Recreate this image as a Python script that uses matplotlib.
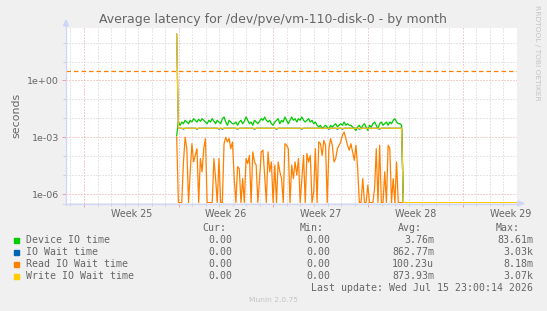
import numpy as np
import matplotlib
matplotlib.use('Agg')
import matplotlib.pyplot as plt
from matplotlib.lines import Line2D
from matplotlib.patches import Polygon
from matplotlib.ticker import FixedLocator, NullFormatter

W, H = 547, 311

# 3-hour averages, time in days from Monday of week 25
t_start = 6.85
step = 1 / 8
tail_len = 68          # trailing zero samples after the disk went idle

# Device IO time (ms)
device_ms = [
    1.2, 6.4, 4.3, 6.4, 5.2, 7.9, 6.4, 5.2, 7.9, 6.4,
    9.6, 7.9, 6.4, 8.9, 7.0, 9.6, 7.9, 6.4, 5.2, 7.9,
    6.4, 9.6, 7.0, 5.2, 7.9, 6.4, 5.2, 9.6, 11.8, 6.4,
    4.3, 7.9, 6.4, 5.2, 5.2, 6.4, 4.3, 6.4, 7.9, 5.2,
    7.0, 11.8, 7.9, 5.2, 6.4, 4.3, 7.9, 6.4, 5.2, 7.0,
    9.6, 7.9, 11.8, 7.9, 6.4, 7.9, 5.2, 4.3, 6.4, 7.9,
    9.6, 5.2, 7.9, 6.4, 11.8, 7.9, 5.2, 7.9, 11.8, 7.9,
    9.6, 6.4, 9.6, 7.9, 11.8, 7.9, 6.4, 7.9, 9.6, 6.4,
    7.9, 5.2, 6.4, 4.3, 3.5, 4.3, 2.8, 3.5, 4.3, 3.5,
    2.8, 4.3, 3.5, 4.3, 5.2, 3.5, 4.3, 5.2, 4.3, 6.4,
    4.3, 5.2, 4.3, 4.3, 3.5, 2.8, 2.3, 3.5, 4.3, 2.8,
    4.3, 5.2, 3.5, 2.3, 4.3, 3.5, 5.2, 6.4, 4.3, 2.8,
    5.2, 6.4, 4.3, 5.2, 6.4, 4.3, 6.4, 5.2, 7.9, 9.6,
    6.4, 5.2, 5.2, 4.3,
]

# IO Wait time (ms)
io_wait_ms = [
    2.8e5, 3.0, 3.0, 3.0, 2.7, 3.0, 3.0, 3.0, 3.0, 3.0,
    3.0, 3.0, 2.7, 3.0, 3.0, 3.0, 3.0, 3.0, 3.0, 3.0,
    3.0, 3.0, 3.0, 3.0, 3.0, 2.7, 3.0, 2.7, 3.0, 3.0,
    3.0, 3.0, 3.0, 3.0, 3.0, 3.0, 2.7, 3.0, 3.0, 3.0,
    3.0, 3.0, 3.0, 3.0, 3.0, 3.0, 2.7, 3.0, 3.0, 3.0,
    3.0, 3.0, 3.0, 3.0, 3.0, 3.0, 3.0, 3.0, 3.0, 2.7,
    3.0, 3.0, 3.0, 3.0, 3.0, 3.0, 3.0, 3.0, 3.0, 3.0,
    3.0, 3.0, 3.0, 3.0, 2.7, 3.0, 3.0, 3.0, 3.0, 3.0,
    3.0, 3.0, 3.0, 3.0, 3.0, 3.0, 3.0, 3.0, 3.0, 3.0,
    2.7, 3.0, 3.0, 3.0, 3.0, 2.7, 3.0, 3.0, 2.7, 3.0,
    3.0, 3.0, 3.0, 3.0, 3.0, 3.0, 3.0, 3.0, 2.7, 3.0,
    3.0, 3.0, 3.0, 3.0, 3.0, 3.0, 3.0, 3.0, 3.0, 3.0,
    2.7, 3.0, 3.0, 3.0, 3.0, 3.0, 3.0, 3.0, 3.0, 3.0,
    3.0, 3.0, 3.0, 3.0,
]

# Read IO Wait time (s), 0 = no reads in that slot
read_wait = [
    1.0e-3, 0, 0, 0, 5.0e-5, 1.0e-3, 2.5e-4, 0, 1.5e-5, 4.6e-4,
    5.0e-5, 1.1e-4, 2.5e-4, 0, 7.5e-5, 1.5e-5, 2.5e-4, 8.5e-4, 0, 0,
    0, 0, 7.5e-5, 6.6e-6, 0, 7.5e-5, 0, 0, 4.6e-4, 1.0e-3,
    5.7e-4, 8.5e-4, 2.5e-4, 5.7e-4, 6.6e-6, 0, 2.8e-5, 2.2e-5, 0, 6.6e-6,
    0, 7.5e-5, 4.1e-5, 1.1e-4, 0, 1.7e-4, 5.0e-5, 3.4e-5, 0, 6.6e-6,
    1.7e-4, 2.1e-4, 1.0e-5, 0, 1.7e-4, 1.5e-5, 5.0e-5, 0, 3.4e-5, 0,
    5.0e-5, 1.5e-5, 6.6e-6, 0, 4.6e-4, 3.8e-4, 2.5e-4, 0, 3.4e-5, 6.6e-6,
    5.0e-5, 1.0e-5, 7.5e-5, 0, 6.6e-6, 1.1e-4, 0, 1.4e-4, 5.0e-5, 1.1e-4,
    0, 1.3e-6, 2.5e-4, 0, 5.7e-4, 4.6e-4, 1.1e-4, 6.9e-4, 3.8e-4, 0,
    2.5e-4, 8.5e-4, 3.8e-4, 5.0e-5, 7.5e-5, 2.5e-4, 3.8e-4, 5.7e-4, 1.3e-3, 1.9e-3,
    8.5e-4, 3.8e-4, 2.1e-4, 4.6e-4, 1.7e-4, 6.1e-5, 3.8e-4, 2.2e-5, 0, 0,
    6.6e-6, 0, 0, 3.0e-6, 0, 0, 0, 2.0e-6, 2.5e-4, 0,
    3.8e-4, 0, 0, 1.5e-5, 0, 3.8e-4, 2.5e-4, 0, 6.6e-6, 0,
    5.0e-5, 0, 0, 0,
]

# Write IO Wait time (ms): one large spike, then flat
write_wait_ms = [2.86e5] + [3.0] * 133

warn_level = 3.0

week_names = ['Week 25', 'Week 26', 'Week 27', 'Week 28', 'Week 29']
week_starts = [0, 7, 14, 21, 28]

labels = ['Device IO time', 'IO Wait time', 'Read IO Wait time', 'Write IO Wait time']
colors = ['#00CC00', '#0066B3', '#FF8000', '#FFCC00']
cur_vals = ['0.00', '0.00', '0.00', '0.00']
min_vals = ['0.00', '0.00', '0.00', '0.00']
avg_vals = ['3.76m', '862.77m', '100.23u', '873.93m']
max_vals = ['83.61m', '3.03k', '8.18m', '3.07k']

FONT = '#666666'
AXIS = '#CFD6F8'
MINOR = '#cfcfcf'
MAJOR = '#eaa0a0'
MONO = 'DejaVu Sans Mono'

YMIN, YMAX = 10 ** -6.47, 10 ** 2.77
XMIN, XMAX = -1.33, 32.0


def fx(px):
    return px / W


def fy(py):
    return 1 - py / H


fig = plt.figure(figsize=(W / 100, H / 100), dpi=100)
fig.patch.set_facecolor('#F0F0F0')
ax = fig.add_axes([fx(66), fy(203), fx(517) - fx(66), fy(28) - fy(203)])
ax.set_facecolor('white')
ax.set_yscale('log')
ax.set_xlim(XMIN, XMAX)
ax.set_ylim(YMIN, YMAX)
for s in ax.spines.values():
    s.set_visible(False)

# grid: days / weeks, decades / every third decade
dots = (0, (1, 2))
for d in range(-1, 33):
    major = d % 7 == 0
    ax.axvline(d, color=MAJOR if major else MINOR, lw=0.72, ls=dots, zorder=0)
for e in range(-6, 3):
    major = e % 3 == 0
    ax.axhline(10.0 ** e, color=MAJOR if major else MINOR, lw=0.72, ls=dots, zorder=0)

# ticks
ax.yaxis.set_major_locator(FixedLocator([1e0, 1e-3, 1e-6]))
ax.yaxis.set_minor_locator(FixedLocator([10.0 ** e for e in range(-6, 3) if e % 3]))
ax.yaxis.set_minor_formatter(NullFormatter())
ax.set_yticklabels(['1e+00', '1e-03', '1e-06'])
ax.tick_params(axis='y', which='major', length=3, width=0.7, color=MAJOR,
               labelsize=6.8, labelcolor=FONT, pad=2)
ax.tick_params(axis='y', which='minor', length=2, width=0.7, color=MINOR)
ax.xaxis.set_major_locator(FixedLocator(week_starts))
ax.xaxis.set_minor_locator(FixedLocator([d for d in range(-1, 33) if d % 7]))
ax.xaxis.set_major_formatter(NullFormatter())
ax.tick_params(axis='x', which='major', length=3, width=0.7, color=MAJOR)
ax.tick_params(axis='x', which='minor', length=2, width=0.7, color=MINOR)
for ws, name in zip(week_starts, week_names):
    ax.text(ws + 3.5, -0.035, name, transform=ax.get_xaxis_transform(),
            ha='center', va='top', fontsize=6.9, color=FONT, clip_on=False)

ax.set_ylabel('seconds', fontsize=7.9, color=FONT, labelpad=4)

# data
n = len(device_ms)
t = t_start + step * np.arange(n)
t_tail = t[-1] + step * np.arange(1, tail_len + 1)
t_all = np.concatenate([t, t_tail])
floor = 10 ** -6.45   # zero is drawn on the bottom edge, as rrdtool does


def series(vals, scale=1.0):
    v = np.concatenate([np.array(vals, float) * scale, np.zeros(tail_len)])
    return np.where(v > 0, v, floor)


ax.plot(t_all, series(device_ms, 1e-3), color=colors[0], lw=0.9, zorder=3)
ax.plot(t_all, series(io_wait_ms, 1e-3), color=colors[1], lw=0.9, zorder=3)
ax.plot(t_all, series(read_wait), color=colors[2], lw=0.9, zorder=3)
ax.plot(t_all, series(write_wait_ms, 1e-3), color=colors[3], lw=0.9, zorder=3)
ax.axhline(warn_level, color='#FF8000', lw=0.9, dashes=(3.6, 2.4), zorder=2)

# axis lines with arrows
fig.add_artist(Line2D([fx(66), fx(66)], [fy(205), fy(24)], color=AXIS, lw=0.9))
fig.add_artist(Line2D([fx(63), fx(519)], [fy(203.5), fy(203.5)], color=AXIS, lw=0.9))
fig.add_artist(Polygon([[fx(63.5), fy(26)], [fx(68.5), fy(26)], [fx(66), fy(20)]],
                       closed=True, color=AXIS))
fig.add_artist(Polygon([[fx(518), fy(201)], [fx(518), fy(206)], [fx(524), fy(203.5)]],
                       closed=True, color=AXIS))

fig.text(fx(273), fy(19), 'Average latency for /dev/pve/vm-110-disk-0 - by month',
         ha='center', va='center', fontsize=9, color=FONT)
fig.text(fx(537), fy(5), 'RRDTOOL / TOBI OETIKER', rotation=270, ha='center', va='top',
         fontsize=5.4, color='#c4c4c4')

# legend block
row_y = [240, 252, 264, 276]
col_right_head = [226, 324, 422, 520]
col_right_val = [232, 330, 434, 533]
for xr, h in zip(col_right_head, ['Cur:', 'Min:', 'Avg:', 'Max:']):
    fig.text(fx(xr), fy(228), h, ha='right', va='center', fontsize=7.1,
             family=MONO, color=FONT)
for i, lab in enumerate(labels):
    y = row_y[i]
    fig.add_artist(Polygon([[fx(14.3), fy(y - 2.5)], [fx(19.3), fy(y - 2.5)],
                            [fx(19.3), fy(y + 2.5)], [fx(14.3), fy(y + 2.5)]],
                           closed=True, color=colors[i]))
    fig.text(fx(26), fy(y), lab, ha='left', va='center', fontsize=7.1,
             family=MONO, color=FONT)
    for xr, v in zip(col_right_val, [cur_vals[i], min_vals[i], avg_vals[i], max_vals[i]]):
        fig.text(fx(xr), fy(y), v, ha='right', va='center', fontsize=7.1,
                 family=MONO, color=FONT)
fig.text(fx(533), fy(288), 'Last update: Wed Jul 15 23:00:14 2026', ha='right',
         va='center', fontsize=7.1, family=MONO, color=FONT)
fig.text(fx(273), fy(300), 'Munin 2.0.75', ha='center', va='center', fontsize=5.4,
         color='#c4c4c4')

fig.savefig('out.png', dpi=100, facecolor=fig.get_facecolor())
